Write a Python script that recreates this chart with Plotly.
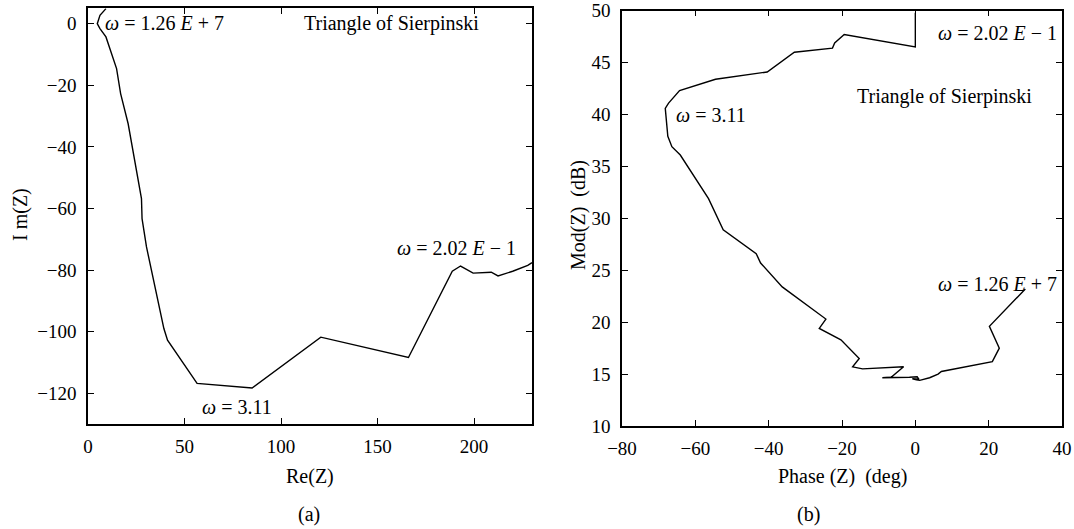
import plotly.graph_objects as go

# Panel (a): Nyquist plot
re_z = [9.3, 6.2, 4.8, 6.2, 9.3, 14.8, 16.9, 20.8, 27.7, 28.0, 30.3, 39.3, 41.2,
        56.5, 85.0, 120.6, 166.0, 186.6, 188.7, 193.0, 199.5, 208.9, 212.4, 220.0, 227.8, 230.0]
im_z = [4.9, 2.7, 0.0, -1.6, -4.3, -14.6, -22.7, -32.5, -56.8, -63.3, -72.5, -99.0, -102.8,
        -116.8, -118.3, -101.8, -108.4, -83.3, -80.4, -78.7, -81.0, -80.7, -81.9, -80.4, -78.5, -77.6]

# Panel (b): Phase vs Modulus
phase = [0.0, 0.0, -19.4, -22.0, -22.6, -33.0, -40.4, -54.5, -64.3, -67.3, -68.2, -67.5,
         -66.4, -64.1, -56.4, -52.4, -43.4, -42.2, -36.3, -24.4, -26.2, -20.3, -15.3, -17.1,
         -14.4, -3.2, -6.6, -9.0, -1.6, 0.5, 1.0, -0.8, 0.3, 1.2, 3.9, 6.2, 7.1, 21.0, 22.9,
         20.2, 30.0]
modz = [49.8, 46.5, 47.7, 46.9, 46.4, 46.0, 44.1, 43.4, 42.3, 41.1, 40.6, 37.9,
        36.9, 36.1, 31.9, 28.9, 26.6, 25.7, 23.4, 20.3, 19.4, 18.3, 16.5, 15.7,
        15.5, 15.7, 14.7, 14.65, 14.7, 14.75, 14.5, 14.55, 14.45, 14.4, 14.65, 15.0, 15.25, 16.2, 17.5,
        19.6, 23.2]

FONT = "Liberation Serif"
W, H = 1074, 529
fig = go.Figure()
fig.add_trace(go.Scatter(x=re_z, y=im_z, mode="lines", line=dict(color="black", width=1.4),
                         xaxis="x", yaxis="y", showlegend=False, hoverinfo="skip"))
fig.add_trace(go.Scatter(x=phase, y=modz, mode="lines", line=dict(color="black", width=1.4),
                         xaxis="x2", yaxis="y2", showlegend=False, hoverinfo="skip"))

axis_common = dict(showgrid=False, zeroline=False, showline=True, linecolor="black", linewidth=1.5,
                   mirror="allticks", ticks="inside", ticklen=6, tickcolor="black", tickwidth=1.2,
                   automargin=False,
                   tickfont=dict(family=FONT, size=19, color="black"))

fig.update_layout(
    width=W, height=H, margin=dict(l=0, r=0, t=0, b=0),
    paper_bgcolor="white", plot_bgcolor="white",
    xaxis=dict(axis_common, domain=[88/W, 532/W], range=[0, 230], dtick=50, tick0=0,
               anchor="y", ticklabelstandoff=4),
    yaxis=dict(axis_common, domain=[1-424/H, 1-8.3/H], range=[-130, 5], dtick=20, tick0=0,
               anchor="x", ticklabelstandoff=6),
    xaxis2=dict(axis_common, domain=[622/W, 1062/W], range=[-80, 40], dtick=20, tick0=0,
                anchor="y2", ticklabelstandoff=4),
    yaxis2=dict(axis_common, domain=[1-426/H, 1-10.7/H], range=[10, 50], dtick=5, tick0=0,
                anchor="x2", ticklabelstandoff=6),
)

afont = dict(family=FONT, size=20, color="black")
anns = [
    dict(x=7.7, y=0.2, xref="x", yref="y", text="<i>ω</i> = 1.26 <i>E</i> + 7", xanchor="left"),
    dict(x=157, y=0.2, xref="x", yref="y", text="Triangle of Sierpinski", xanchor="center"),
    dict(x=191, y=-72.9, xref="x", yref="y", text="<i>ω</i> = 2.02 <i>E</i> − 1", xanchor="center"),
    dict(x=77, y=-124.6, xref="x", yref="y", text="<i>ω</i> = 3.11", xanchor="center"),
    dict(x=22.4, y=47.9, xref="x2", yref="y2", text="<i>ω</i> = 2.02 <i>E</i> − 1", xanchor="center"),
    dict(x=8.0, y=41.7, xref="x2", yref="y2", text="Triangle of Sierpinski", xanchor="center"),
    dict(x=-55.7, y=40.0, xref="x2", yref="y2", text="<i>ω</i> = 3.11", xanchor="center"),
    dict(x=22.5, y=23.7, xref="x2", yref="y2", text="<i>ω</i> = 1.26 <i>E</i> + 7", xanchor="center"),
    dict(x=309/W, y=1-514/H, xref="paper", yref="paper", text="(a)", xanchor="center"),
    dict(x=808/W, y=1-514/H, xref="paper", yref="paper", text="(b)", xanchor="center"),
    dict(x=310/W, y=1-476/H, xref="paper", yref="paper", text="Re(Z)", xanchor="center"),
    dict(x=842/W, y=1-476/H, xref="paper", yref="paper", text="Phase (Z)  (deg)", xanchor="center"),
]
for a in anns:
    fig.add_annotation(**a, showarrow=False, yanchor="middle", font=afont)
# rotated y-axis titles
fig.add_annotation(x=20/W, y=1-215/H, xref="paper", yref="paper", text="I m(Z)", textangle=-90,
                   showarrow=False, xanchor="center", yanchor="middle", font=afont)
fig.add_annotation(x=578/W, y=1-215/H, xref="paper", yref="paper", text="Mod(Z)  (dB)", textangle=-90,
                   showarrow=False, xanchor="center", yanchor="middle", font=afont)

fig.write_html("out.html")
